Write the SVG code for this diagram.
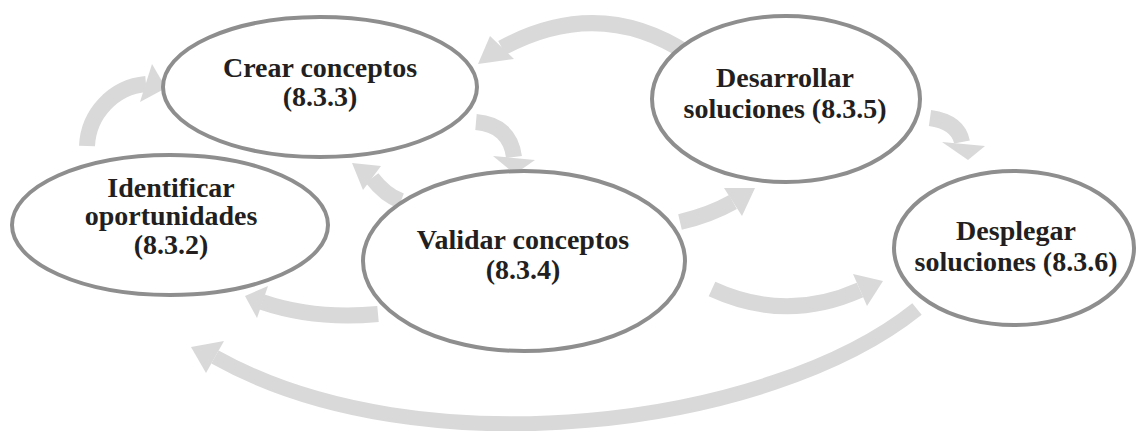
<svg xmlns="http://www.w3.org/2000/svg" width="1138" height="431" viewBox="0 0 1138 431">
<style>
.sh{fill:none;stroke:#d9d9d9;stroke-width:16}
.hd{fill:#d9d9d9}
.nd{fill:#ffffff;stroke:#8e8e8e;stroke-width:4}
.tx{font-family:"Liberation Serif","Times New Roman",serif;font-weight:bold;font-size:28px;fill:#231f20;text-anchor:middle}
</style>
<rect width="1138" height="431" fill="#ffffff"/>
<g id="connectors">
<path class="sh" d="M87,146 A65,65 0 0 1 146,84"/>
<polygon class="hd" points="152,64 166,88 140,102"/>
<path class="sh" d="M476,122 Q510,125 514,157"/>
<polygon class="hd" points="493,156 535,160 515,174"/>
<path class="sh" d="M401,201 Q385,195 372,178"/>
<polygon class="hd" points="381,166 352,163 363,190"/>
<path class="sh" d="M690,55 Q600,-5 502,48"/>
<polygon class="hd" points="490,36 478,64 514,59"/>
<path class="sh" d="M680,222 Q710,215 733,202"/>
<polygon class="hd" points="742,216 755,188 724,188"/>
<path class="sh" d="M930,118 Q958,122 962,142"/>
<polygon class="hd" points="942,142 985,146 968,160"/>
<path class="sh" d="M712,289 Q786,323 860,290"/>
<polygon class="hd" points="867,306 883,281 853,274"/>
<path class="sh" d="M378,314 Q315,320 262,302"/>
<polygon class="hd" points="268,286 245,296 257,318"/>
<path class="sh" d="M917,309 C770,427 420,472 215,357" style="stroke-width:15"/>
<polygon class="hd" points="224,341 191,347 206,373"/>
</g>
<g id="n832">
<ellipse class="nd" cx="170" cy="225" rx="158" ry="70"/>
<text class="tx" x="171" y="197">Identificar</text>
<text class="tx" x="171" y="225">oportunidades</text>
<text class="tx" x="171" y="254">(8.3.2)</text>
</g>
<g id="n833">
<ellipse class="nd" cx="320" cy="87" rx="157" ry="70"/>
<text class="tx" x="320" y="77">Crear conceptos</text>
<text class="tx" x="320" y="106">(8.3.3)</text>
</g>
<g id="n834">
<ellipse class="nd" cx="524" cy="261" rx="161" ry="90"/>
<text class="tx" x="523" y="249">Validar conceptos</text>
<text class="tx" x="523" y="279">(8.3.4)</text>
</g>
<g id="n835">
<ellipse class="nd" cx="786" cy="99" rx="134" ry="83"/>
<text class="tx" x="785" y="87">Desarrollar</text>
<text class="tx" x="785" y="118">soluciones (8.3.5)</text>
</g>
<g id="n836">
<ellipse class="nd" cx="1014" cy="248" rx="120" ry="77"/>
<text class="tx" x="1016" y="240">Desplegar</text>
<text class="tx" x="1016" y="271">soluciones (8.3.6)</text>
</g>
</svg>
